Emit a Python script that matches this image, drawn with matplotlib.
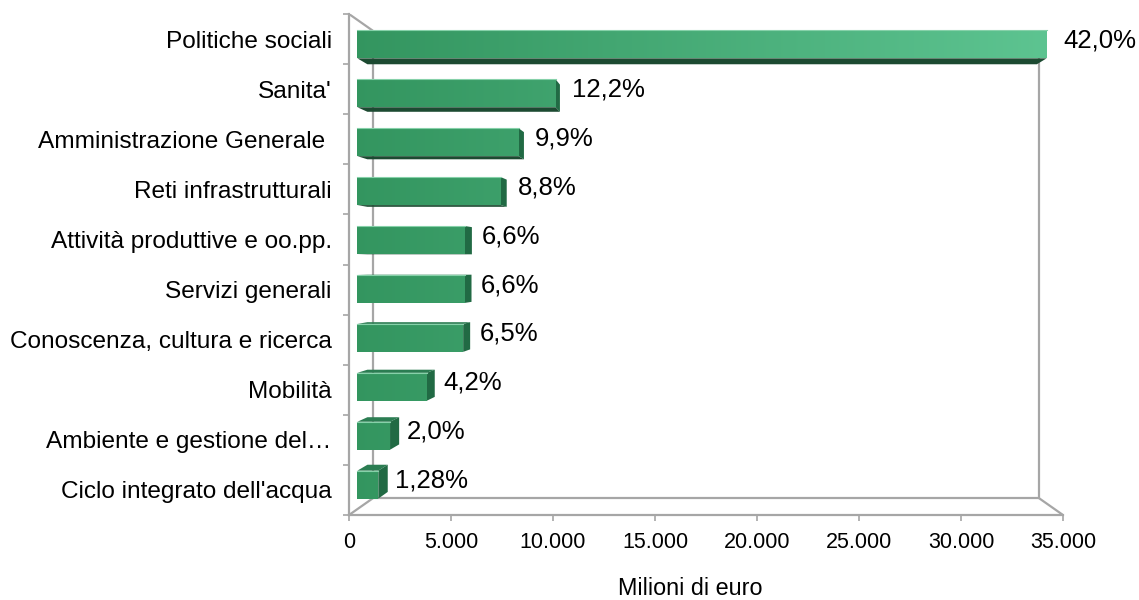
import numpy as np
import matplotlib
matplotlib.use("Agg")
import matplotlib.pyplot as plt
from matplotlib.patches import Polygon
from matplotlib.colors import LinearSegmentedColormap

plt.rcParams['font.family'] = ['Liberation Sans', 'DejaVu Sans']

categories = ["Politiche sociali", "Sanita'", "Amministrazione Generale ",
              "Reti infrastrutturali", "Attività produttive e oo.pp.",
              "Servizi generali", "Conoscenza, cultura e ricerca", "Mobilità",
              "Ambiente e gestione del\u2026", "Ciclo integrato dell'acqua"]
values = [34600, 9950, 8090, 7200, 5400, 5380, 5310, 3480, 1640, 1050]
pct_labels = ["42,0%", "12,2%", "9,9%", "8,8%", "6,6%", "6,6%", "6,5%", "4,2%", "2,0%", "1,28%"]
xticks = [0, 5000, 10000, 15000, 20000, 25000, 30000, 35000]
xtick_labels = ["0", "5.000", "10.000", "15.000", "20.000", "25.000", "30.000", "35.000"]

XMAX = 35000
NCAT = len(categories)
XC, YC = XMAX / 2, NCAT / 2   # vanishing centre
K = 0.067                      # shrink of the back wall
D1, D2 = 0.35, 0.77            # bar depth (front / back)
H = 0.286                      # half bar height, category units

frame_col = '#a6a6a6'
cmap = LinearSegmentedColormap.from_list('g', ['#33955f', '#5ec592'])


def proj(v, y, d):
    s = 1 - K * d
    return XC + (v - XC) * s, YC + (y - YC) * s


fig = plt.figure(figsize=(11.39, 6), dpi=100)
ax = fig.add_axes([349 / 1139, 85 / 600, 714 / 1139, 501 / 600])

# walls / floor outline
segs = [
    (proj(0, 0, 0), proj(0, 0, 1)),
    (proj(0, 0, 1), proj(0, NCAT, 1)),
    (proj(0, NCAT, 1), proj(XMAX, NCAT, 1)),
    (proj(0, NCAT, 0), proj(0, NCAT, 1)),
    (proj(XMAX, NCAT, 0), proj(XMAX, NCAT, 1)),
    (proj(XMAX, NCAT, 1), proj(XMAX, 0, 1)),
]
for a, b in segs:
    ax.plot([a[0], b[0]], [a[1], b[1]], color=frame_col, lw=1.6, zorder=1,
            solid_capstyle='butt')

grad = np.linspace(0, 1, 256)[None, :]

for i, (v, lab) in enumerate(zip(values, pct_labels)):
    yc = i + 0.5
    # horizontal face (bottom for upper bars, top for lower bars)
    if yc < YC:
        ye, col = yc + H, '#1c4a31'
    else:
        ye, col = yc - H, '#2b7d52'
    pts = [proj(0, ye, D1), proj(v, ye, D1), proj(v, ye, D2), proj(0, ye, D2)]
    ax.add_patch(Polygon(pts, closed=True, facecolor=col, edgecolor='none', zorder=3))
    # right end face
    if v < XC:
        pts = [proj(v, yc - H, D1), proj(v, yc - H, D2), proj(v, yc + H, D2), proj(v, yc + H, D1)]
        ax.add_patch(Polygon(pts, closed=True, facecolor='#216a44', edgecolor='none', zorder=3))
    # front face with gradient
    pts = [proj(0, yc - H, D1), proj(v, yc - H, D1), proj(v, yc + H, D1), proj(0, yc + H, D1)]
    poly = Polygon(pts, closed=True, facecolor='none', edgecolor='none', zorder=4)
    ax.add_patch(poly)
    im = ax.imshow(grad, cmap=cmap, extent=(0, 35000, NCAT, 0), aspect='auto',
                   interpolation='bilinear', zorder=4)
    im.set_clip_path(poly)
    a, b = proj(0, yc - H, D1), proj(v, yc - H, D1)
    ax.plot([a[0], b[0]], [a[1], b[1]], color='#86d1a9', lw=0.8, zorder=5)
    # value label
    lx, ly = proj(v, yc, D1)
    ax.annotate(lab, xy=(lx, ly), xytext=(12, -2.2), textcoords='offset points',
                ha='left', va='baseline', fontsize=18.5, color='black', zorder=6)

ax.set_xlim(0, XMAX)
ax.set_ylim(NCAT, 0)

for s in ['top', 'right']:
    ax.spines[s].set_visible(False)
for s in ['left', 'bottom']:
    ax.spines[s].set_color(frame_col)
    ax.spines[s].set_linewidth(1.6)

ax.set_xticks(xticks)
ax.set_xticklabels(xtick_labels, fontsize=15.5)
ax.tick_params(axis='x', length=4.5, width=1.2, color=frame_col, pad=8)

ax.set_yticks(np.arange(NCAT + 1))
ax.set_yticklabels([])
ax.set_yticks(np.arange(NCAT) + 0.5, minor=True)
ax.set_yticklabels(categories, minor=True, fontsize=17.6)
ax.tick_params(axis='y', which='major', length=4.5, width=1.2, color=frame_col)
ax.tick_params(axis='y', which='minor', length=0, pad=12.5)

fig.text(690 / 1139, 5 / 600, "Milioni di euro", ha='center', va='baseline', fontsize=16.8)

fig.savefig("out.png", dpi=100)
